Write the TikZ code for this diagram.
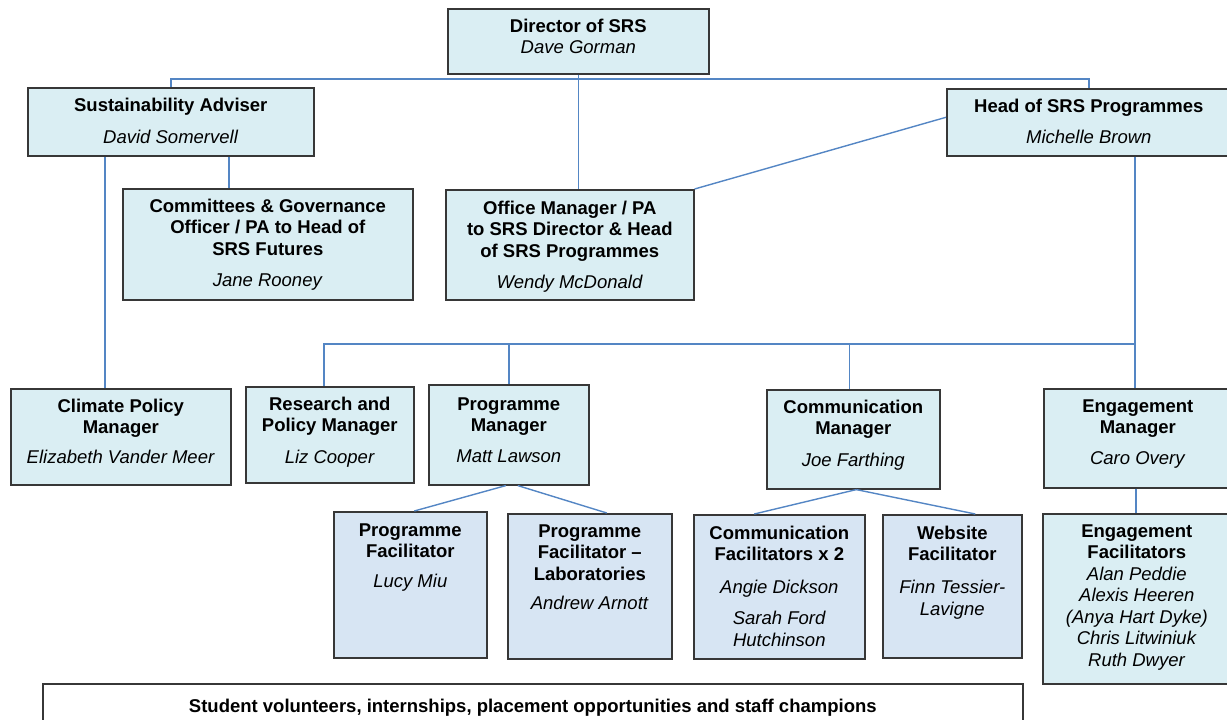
\documentclass[tikz,border=0pt]{standalone}
\usepackage{fontspec}
\setmainfont{Liberation Sans}
\usepackage{tikz}
\definecolor{aqua}{RGB}{218,238,243}
\definecolor{paleblue}{RGB}{215,229,243}
\definecolor{boxline}{RGB}{55,55,55}
\definecolor{linkblue}{RGB}{84,134,196}
\tikzset{post/.style = {draw=boxline, line width=1.6pt, fill=aqua, inner sep=0, anchor=north west,
                        font=\fontsize{18.5}{21.5}\selectfont}}
\tikzset{facil/.style = {post, fill=paleblue}}
\tikzset{link/.style = {draw=linkblue, line width=1.4pt}}
\newcommand{\card}[4]{\parbox[t][#2pt][t]{#1pt}{\centering\vspace*{#3pt}\strut#4}}

\begin{document}
\begin{tikzpicture}[x=1pt, y=-1pt]
      \useasboundingbox (0,0) rectangle (1227,720);

      \node [post] (dir) at (447,8) {\card{261}{65}{8.5}{\textbf{Director of SRS}\\\textit{Dave Gorman}}};
      \node [post] (sadv) at (27,87) {\card{286}{68}{9}{\textbf{Sustainability Adviser}\\[10pt]\textit{David Somervell}}};
      \node [post] (head) at (946,88) {\card{284}{67}{8.5}{\textbf{Head of SRS Programmes}\\[9.5pt]\textit{Michelle Brown}}};

      \node [post] (ctee) at (122,188) {\card{290}{111}{8.5}{\textbf{Committees \& Governance}\\\textbf{Officer / PA to Head of}\\\textbf{SRS Futures}\\[10pt]\textit{Jane Rooney}}};
      \node [post] (office) at (445,189) {\card{248}{110}{9.5}{\textbf{Office Manager / PA}\\\textbf{to SRS Director \& Head}\\\textbf{of SRS Programmes}\\[9.5pt]\textit{Wendy McDonald}}};

      \node [post] (climate) at (10,388) {\card{220}{96}{8.5}{\textbf{Climate Policy}\\\textbf{Manager}\\[8.5pt]\textit{Elizabeth Vander Meer}}};
      \node [post] (research) at (245,386) {\card{168}{96}{8.5}{\textbf{Research and}\\\textbf{Policy Manager}\\[10.5pt]\textit{Liz Cooper}}};
      \node [post] (progm) at (428,384) {\card{160}{100}{10.5}{\textbf{Programme}\\\textbf{Manager}\\[9.5pt]\textit{Matt Lawson}}};
      \node [post] (commm) at (766,389) {\card{173}{99}{8.5}{\textbf{Communication}\\\textbf{Manager}\\[10.5pt]\textit{Joe Farthing}}};
      \node [post] (engm) at (1043,388) {\card{188}{99}{8.5}{\textbf{Engagement}\\\textbf{Manager}\\[9.5pt]\textit{Caro Overy}}};

      \node [facil] (pfac) at (333,511) {\card{153}{146}{9.5}{\textbf{Programme}\\\textbf{Facilitator}\\[8.5pt]\textit{Lucy Miu}}};
      \node [facil] (pflab) at (507,513) {\card{164}{145}{8.5}{\textbf{Programme}\\\textbf{Facilitator --}\\\textbf{Laboratories}\\[8pt]\textit{Andrew Arnott}}};
      \node [facil] (cfac) at (693,514) {\card{171}{144}{9.5}{\textbf{Communication}\\\textbf{Facilitators x 2}\\[11.5pt]\textit{Angie Dickson}\\[9.5pt]\textit{Sarah Ford}\\\textit{Hutchinson}}};
      \node [facil] (wfac) at (882,514) {\card{139}{143}{9.5}{\textbf{Website}\\\textbf{Facilitator}\\[11.5pt]\textit{Finn Tessier-}\\\textit{Lavigne}}};
      \node [post] (efac) at (1042,513) {\card{188}{170}{8.5}{\textbf{Engagement}\\\textbf{Facilitators}\\\textit{Alan Peddie}\\\textit{Alexis Heeren}\\\textit{(Anya Hart Dyke)}\\\textit{Chris Litwiniuk}\\\textit{Ruth Dwyer}}};

      \node [post, fill=white] (student) at (42,683) {\card{980}{60}{13.5}{\textbf{Student volunteers, internships, placement opportunities and staff champions}}};

      \draw [link] (sadv.north) -- ++(0,-8) -| (head.north);
      \draw [link] (dir.south) -- (dir.south |- office.north);
      \draw [link] ([xshift=-16pt]climate.north) -- ([xshift=-16pt]climate.north |- sadv.south);
      \draw [link] ([xshift=-39pt]ctee.north) -- ([xshift=-39pt]ctee.north |- sadv.south);
      \draw [link] ([yshift=5pt]head.west) -- (office.north east);

      \coordinate (hub) at (1134,344);
      \draw [link] ([xshift=46pt]head.south) -- ([xshift=-3pt]engm.north);
      \draw [link] (hub) -| ([xshift=-6pt]research.north);
      \draw [link] (progm.north) -- (progm.north |- hub);
      \draw [link] ([xshift=-4pt]commm.north) -- ([xshift=-4pt]commm.north |- hub);

      \draw [link] ([xshift=-3pt]progm.south) -- ([xshift=4pt]pfac.north);
      \draw [link] ([xshift=9pt]progm.south) -- ([xshift=17pt]pflab.north);
      \draw [link] ([xshift=3pt]commm.south) -- ([xshift=-25pt]cfac.north);
      \draw [link] ([xshift=3pt]commm.south) -- ([xshift=23pt]wfac.north);
      \draw [link] ([xshift=-2pt]engm.south) -- ([xshift=-1pt]efac.north);
    \end{tikzpicture}
\end{document}
